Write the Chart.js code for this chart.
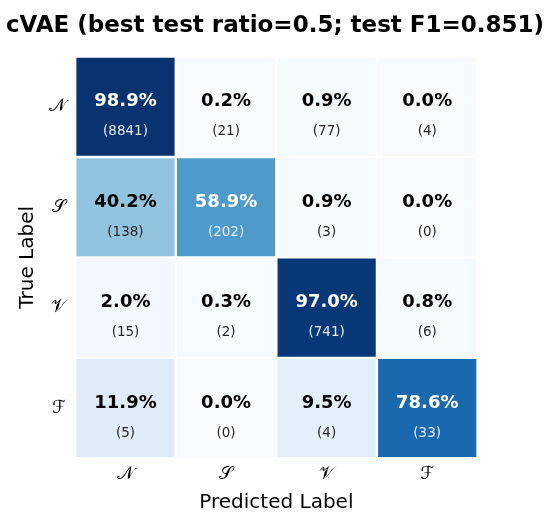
<!DOCTYPE html>
<html>
<head>
<meta charset="utf-8">
<script src="https://cdn.jsdelivr.net/npm/chart.js@4.4.1/dist/chart.umd.min.js"></script>
<style>
  html, body { margin: 0; padding: 0; background: #fff; }
  #wrap { width: 550px; height: 518px; }
</style>
</head>
<body>
<div id="wrap"><canvas id="cm"></canvas></div>
<script>
// class labels (true rows / predicted columns)
const classLabels = ['\u{1D4A9}', '\u{1D4AE}', '\u{1D4B1}', '\u2131'];

// confusion counts, one array per true label
const countsN = [8841, 21, 77, 4];
const countsS = [138, 202, 3, 0];
const countsV = [15, 2, 741, 6];
const countsF = [5, 0, 4, 33];

// row-normalised percentages as printed in the cells
const pctN = [98.9, 0.2, 0.9, 0.0];
const pctS = [40.2, 58.9, 0.9, 0.0];
const pctV = [2.0, 0.3, 97.0, 0.8];
const pctF = [11.9, 0.0, 9.5, 78.6];

const countRows = [countsN, countsS, countsV, countsF];
const pctRows = [pctN, pctS, pctV, pctF];

const chartTitle = 'cVAE (best test ratio=0.5; test F1=0.851)';

// matplotlib "Blues" colormap
const bluesStops = ['#f7fbff', '#deebf7', '#c6dbef', '#9ecae1', '#6baed6',
                    '#4292c6', '#2171b5', '#08519c', '#08306b'];

function hexToRgb(h) {
    return [parseInt(h.slice(1, 3), 16), parseInt(h.slice(3, 5), 16), parseInt(h.slice(5, 7), 16)];
}

function blues(t) {
    t = Math.max(0, Math.min(1, t));
    const pos = t * (bluesStops.length - 1);
    const i = Math.min(Math.floor(pos), bluesStops.length - 2);
    const f = pos - i;
    const a = hexToRgb(bluesStops[i]);
    const b = hexToRgb(bluesStops[i + 1]);
    const c = a.map((v, k) => Math.round(v + (b[k] - v) * f));
    return `rgb(${c[0]}, ${c[1]}, ${c[2]})`;
}

// one floating-bar dataset per true row
const datasets = pctRows.map((row, r) => ({
    label: classLabels[r],
    data: row.map(() => [r - 0.5, r + 0.5]),
    backgroundColor: row.map(p => blues(p / 100)),
    borderColor: '#ffffff',
    borderWidth: 1.5,
    borderSkipped: false,
    grouped: false,
    barPercentage: 1,
    categoryPercentage: 1
}));

// writes percentage and count into every cell
const cellText = {
    id: 'cellText',
    afterDatasetsDraw(chart) {
        const { ctx, scales: { x, y } } = chart;
        ctx.save();
        ctx.textAlign = 'center';
        ctx.textBaseline = 'middle';
        pctRows.forEach((row, r) => {
            row.forEach((p, c) => {
                const cx = x.getPixelForValue(c);
                const cy = y.getPixelForValue(r);
                const dark = p > 50;
                ctx.fillStyle = dark ? '#ffffff' : '#000000';
                ctx.font = 'bold 18px "DejaVu Sans"';
                ctx.fillText(p.toFixed(1) + '%', cx, cy - 5);
                ctx.fillStyle = dark ? '#e4ecf6' : '#262626';
                ctx.font = '13.5px "DejaVu Sans"';
                ctx.fillText('(' + countRows[r][c] + ')', cx, cy + 25);
            });
        });
        ctx.restore();
    }
};

new Chart(document.getElementById('cm'), {
    type: 'bar',
    data: { labels: classLabels, datasets: datasets },
    options: {
        responsive: true,
        maintainAspectRatio: false,
        animation: false,
        layout: { padding: 0 },
        plugins: {
            legend: { display: false },
            tooltip: { enabled: false },
            title: {
                display: true,
                text: chartTitle,
                color: '#000',
                font: { family: 'DejaVu Sans', size: 23, weight: 'bold' },
                padding: { top: 12, bottom: 17 }
            }
        },
        scales: {
            x: {
                type: 'category',
                grid: { display: false, drawTicks: false },
                border: { display: false },
                ticks: {
                    color: '#000',
                    font: { family: 'DejaVu Sans', size: 18 },
                    padding: 5
                },
                title: {
                    display: true,
                    text: 'Predicted Label',
                    color: '#000',
                    font: { family: 'DejaVu Sans', size: 20 },
                    padding: { top: 0, bottom: 3 }
                },
                afterFit(scale) { scale.height = 59.8; }
            },
            y: {
                type: 'linear',
                min: -0.5,
                max: 3.5,
                reverse: true,
                grid: { display: false, drawTicks: false },
                border: { display: false },
                afterBuildTicks(scale) {
                    scale.ticks = classLabels.map((_, i) => ({ value: i }));
                },
                ticks: {
                    color: '#000',
                    font: { family: 'DejaVu Sans', size: 18 },
                    padding: 9,
                    callback: (v) => classLabels[v] ?? ''
                },
                title: {
                    display: true,
                    text: 'True Label',
                    color: '#000',
                    font: { family: 'DejaVu Sans', size: 20 },
                    padding: { top: 16, bottom: 0 }
                },
                afterFit(scale) { scale.width = 75.2; }
            },
            // empty right-hand axis, only keeps the space right of the matrix
            yRight: {
                type: 'linear',
                position: 'right',
                grid: { display: false, drawTicks: false },
                border: { display: false },
                ticks: { display: false },
                afterFit(scale) { scale.width = 72.5; }
            }
        }
    },
    plugins: [cellText]
});
</script>
</body>
</html>
